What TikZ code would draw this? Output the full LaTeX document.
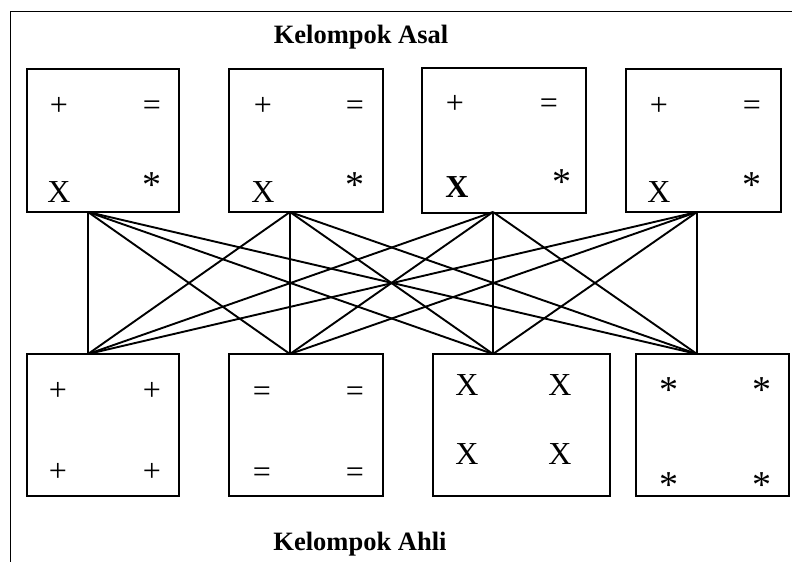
\documentclass[tikz,border=0pt]{standalone}
\usepackage{fontspec}
\setmainfont{Liberation Serif}
\tikzset{
  grp/.style={draw,line width=1.8pt,inner sep=0pt},
  sym/.style={anchor=base,inner sep=0pt,font=\fontsize{32}{32}\selectfont},
  star/.style={sym,font=\fontsize{38}{38}\selectfont},
  ttl/.style={anchor=base,inner sep=0pt,font=\fontsize{26.5}{26.5}\selectfont\bfseries},
  link/.style={line width=1.9pt}
}
\begin{document}
\begin{tikzpicture}[x=1pt,y=-1pt]
  \useasboundingbox (0,0) rectangle (792,562);
  \draw[line width=1pt] (792,11) -- (10,11) -- (10,562);
  \node[ttl] (asal) at (361,43) {Kelompok Asal};
  \node[ttl] (ahli) at (360,550) {Kelompok Ahli};
  % kelompok asal
  \node[grp,minimum width=152pt,minimum height=143pt] (A1) at (103,140.5) {};
  \node[grp,minimum width=154pt,minimum height=143pt] (A2) at (306,140.5) {};
  \node[grp,minimum width=164pt,minimum height=145pt] (A3) at (504,140.5) {};
  \node[grp,minimum width=155pt,minimum height=143pt] (A4) at (703.5,140.5) {};
  \foreach \i/\l/\r in {1/59/152,2/263/355,4/659/752}{
    \node[sym] (p\i) at (\l,115) {+};
    \node[sym] (e\i) at (\r,115) {=};
    \node[sym] (x\i) at (\l,202) {X};
    \node[star] (s\i) at (\r,197) {*};
  }
  \node[sym] (p3) at (455,113) {+};
  \node[sym] (e3) at (549,113) {=};
  \node[sym,font=\fontsize{32}{32}\selectfont\bfseries] (x3) at (457,197) {X};
  \node[star] (s3) at (562,194) {*};
  % kelompok ahli
  \node[grp,minimum width=152pt,minimum height=142pt] (B1) at (103,425) {};
  \node[grp,minimum width=154pt,minimum height=142pt] (B2) at (306,425) {};
  \node[grp,minimum width=177pt,minimum height=142pt] (B3) at (521.5,425) {};
  \node[grp,minimum width=153pt,minimum height=142pt] (B4) at (712.5,425) {};
  \foreach \x in {58,152}{
    \node[sym] at (\x,400) {+};
    \node[sym] at (\x,481) {+};
  }
  \foreach \x in {262,355}{
    \node[sym] at (\x,401) {=};
    \node[sym] at (\x,482) {=};
  }
  \foreach \x in {467,560}{
    \node[sym] at (\x,395) {X};
    \node[sym] at (\x,464) {X};
  }
  \foreach \x in {669,762}{
    \node[star] at (\x,402) {*};
    \node[star] at (\x,497) {*};
  }
  % connectors
  \foreach \i/\x in {1/88,2/290,3/493,4/697}{
    \coordinate (t\i) at (\x,212);
    \coordinate (b\i) at (\x,354);
  }
  \foreach \i in {1,...,4}
    \foreach \j in {1,...,4}
      \draw[link] (t\i) -- (b\j);
\end{tikzpicture}
\end{document}
